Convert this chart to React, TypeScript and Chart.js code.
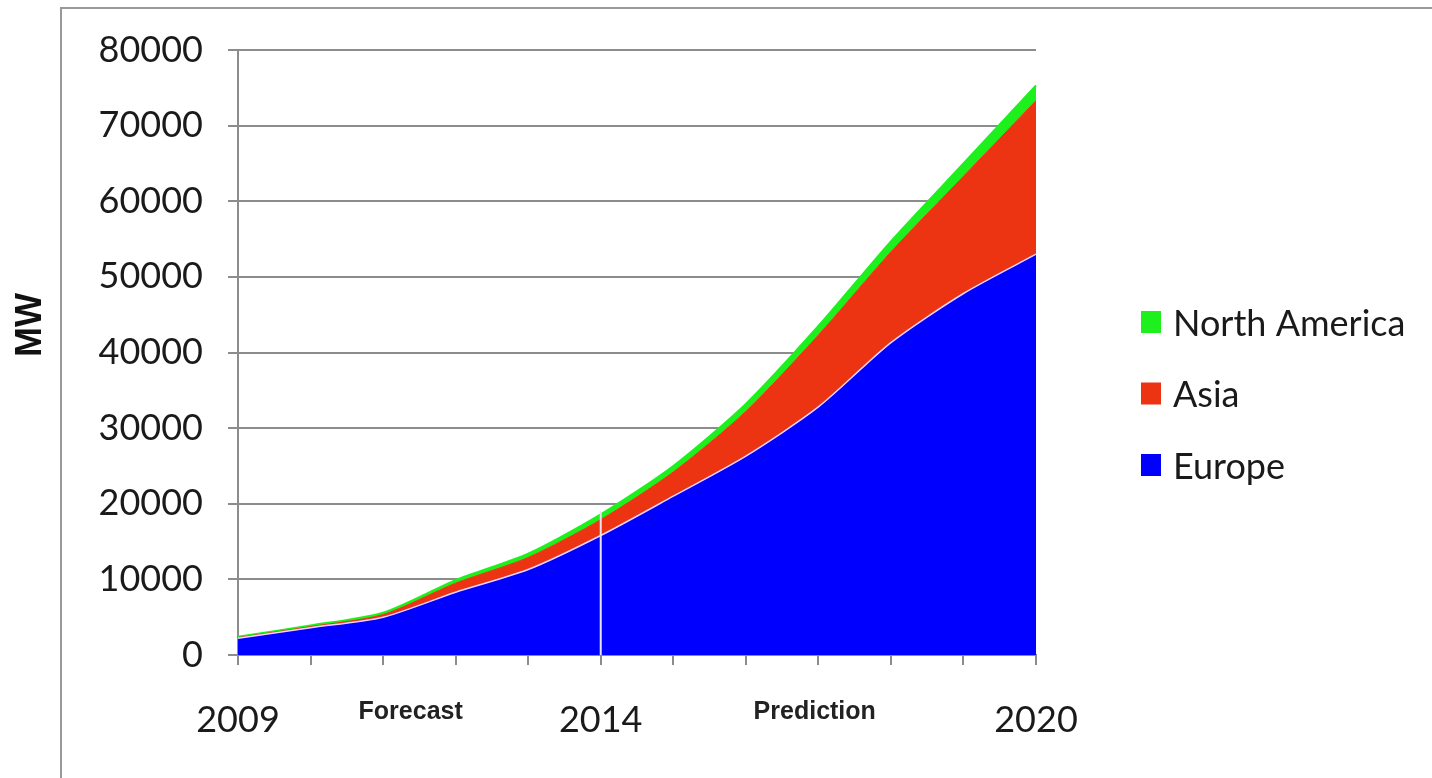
import { useEffect, useRef } from 'react';
import { Chart, registerables } from 'chart.js';

Chart.register(...registerables);

// Installed capacity, MW
const years = ['2009', '2010', '2011', '2012', '2013', '2014', '2015', '2016', '2017', '2018', '2019', '2020'];
const shownYears = ['2009', '2014', '2020'];
const europe = [2200, 3600, 5000, 8300, 11300, 15800, 21000, 26300, 32800, 41300, 47800, 53000];
const asia = [100, 150, 350, 1200, 1600, 2100, 3200, 5900, 9500, 12000, 15500, 20300];
const northAmerica = [100, 150, 250, 400, 500, 700, 800, 1000, 1200, 1400, 1700, 2000];
const yTicks = [0, 10000, 20000, 30000, 40000, 50000, 60000, 70000, 80000];

// text under the x axis, placed by category index
const phaseLabels = ['Forecast', 'Prediction'];
const phasePositions = [2.38, 7.95];
const dividerYear = '2014';

const EUROPE_COLOR = '#0000ff';
const ASIA_COLOR = '#ec3412';
const NA_COLOR = '#1ef01e';
const AXIS_COLOR = '#8c8c8c';
const TEXT_COLOR = '#1a1a1a';

const overlayPlugin = {
  id: 'overlay',
  afterDatasetsDraw(chart: any) {
    const { ctx, chartArea, scales } = chart;
    const x = scales.x;
    const y = scales.y;
    ctx.save();

    // white divider at 2014, from the axis up to the top of the stack
    const i = years.indexOf(dividerYear);
    const total = europe[i] + asia[i] + northAmerica[i];
    const dx = x.getPixelForValue(i);
    ctx.strokeStyle = '#e6e6f2';
    ctx.lineWidth = 2;
    ctx.beginPath();
    ctx.moveTo(dx, y.getPixelForValue(0));
    ctx.lineTo(dx, y.getPixelForValue(total) - 3);
    ctx.stroke();

    // Forecast / Prediction
    ctx.fillStyle = '#222';
    ctx.font = 'bold 25px "Liberation Sans", Arial, sans-serif';
    ctx.textAlign = 'center';
    ctx.textBaseline = 'middle';
    phaseLabels.forEach((label, k) => {
      ctx.fillText(label, x.getPixelForValue(phasePositions[k]), chartArea.bottom + 57);
    });

    // y axis title
    ctx.save();
    ctx.translate(31, 325);
    ctx.rotate(-Math.PI / 2);
    ctx.fillStyle = '#111';
    ctx.font = 'bold 36px "Liberation Sans", Arial, sans-serif';
    ctx.fillText('MW', 0, 0);
    ctx.restore();

    // legend, top item is the last dataset
    const items = [...chart.data.datasets].reverse();
    ctx.font = '36px Lato, sans-serif';
    ctx.textAlign = 'left';
    items.forEach((ds: any, k: number) => {
      const cy = 322 + k * 71.5;
      ctx.fillStyle = ds.backgroundColor;
      ctx.fillRect(1141, cy - 11, 20, 22);
      ctx.fillStyle = TEXT_COLOR;
      ctx.fillText(ds.label, 1173, cy + 2);
    });

    ctx.restore();
  },
};

export default function App() {
  const canvasRef = useRef<HTMLCanvasElement>(null);

  useEffect(() => {
    if (!canvasRef.current) return;

    const chart = new Chart(canvasRef.current, {
      type: 'line',
      data: {
        labels: years,
        datasets: [
          {
            label: 'Europe',
            data: europe,
            backgroundColor: EUROPE_COLOR,
            borderColor: '#f4d2f4',
            borderWidth: 1.5,
            fill: 'origin',
            pointRadius: 0,
            tension: 0.25,
          },
          {
            label: 'Asia',
            data: asia,
            backgroundColor: ASIA_COLOR,
            borderColor: ASIA_COLOR,
            borderWidth: 1,
            fill: '-1',
            pointRadius: 0,
            tension: 0.25,
          },
          {
            label: 'North America',
            data: northAmerica,
            backgroundColor: NA_COLOR,
            borderColor: NA_COLOR,
            borderWidth: 2,
            fill: '-1',
            pointRadius: 0,
            tension: 0.25,
          },
        ],
      },
      options: {
        animation: false,
        responsive: true,
        maintainAspectRatio: false,
        layout: { padding: { top: 50, right: 396, bottom: 0, left: 0 } },
        plugins: {
          legend: { display: false },
          tooltip: { enabled: false },
        },
        scales: {
          x: {
            offset: false,
            grid: {
              drawOnChartArea: false,
              drawTicks: true,
              tickLength: 10,
              color: AXIS_COLOR,
              lineWidth: 2,
            },
            border: { color: AXIS_COLOR, width: 2 },
            ticks: {
              autoSkip: false,
              maxRotation: 0,
              padding: 34,
              color: TEXT_COLOR,
              font: { family: 'Lato, sans-serif', size: 36 },
              callback: (_v: any, idx: number) => (shownYears.includes(years[idx]) ? years[idx] : ''),
            },
            afterFit: (scale: any) => {
              scale.height = 123;
            },
          },
          y: {
            stacked: true,
            min: yTicks[0],
            max: yTicks[yTicks.length - 1],
            grid: {
              color: AXIS_COLOR,
              lineWidth: 2,
              tickLength: 10,
            },
            border: { color: AXIS_COLOR, width: 2 },
            afterBuildTicks: (scale: any) => {
              scale.ticks = yTicks.map((v) => ({ value: v }));
            },
            ticks: {
              padding: 25,
              color: TEXT_COLOR,
              font: { family: 'Lato, sans-serif', size: 36 },
              callback: (v: any) => String(v),
            },
            afterFit: (scale: any) => {
              scale.width = 238;
            },
          },
        },
      },
      plugins: [overlayPlugin],
    });

    return () => chart.destroy();
  }, []);

  return (
    <div
      style={{
        position: 'absolute',
        left: 0,
        top: 0,
        width: 1432,
        height: 778,
        overflow: 'hidden',
        background: '#fff',
      }}
    >
      <div
        style={{
          position: 'absolute',
          left: 60,
          top: 7,
          width: 1500,
          height: 900,
          border: '2px solid #999',
        }}
      />
      <div style={{ position: 'absolute', left: 0, top: 0, width: 1432, height: 778 }}>
        <canvas ref={canvasRef} />
      </div>
    </div>
  );
}
